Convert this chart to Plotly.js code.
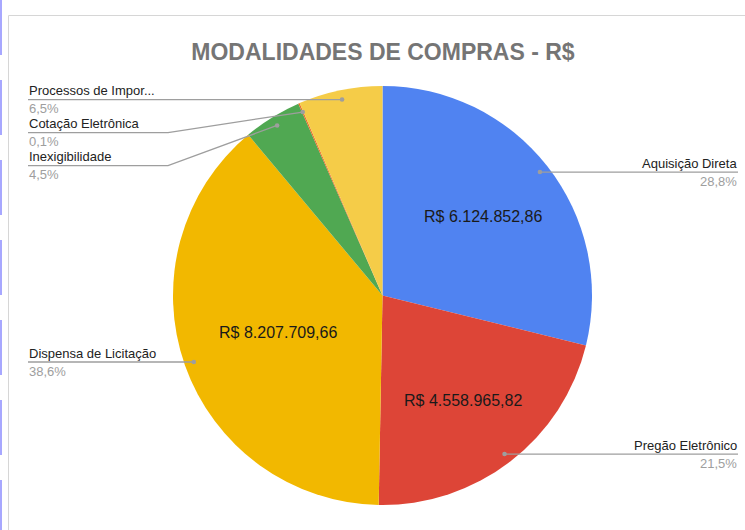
<!DOCTYPE html>
<html>
<head>
<meta charset="utf-8">
<script src="https://cdn.plot.ly/plotly-3.0.1.min.js"></script>
<style>html,body{margin:0;padding:0;background:#fff;}#chart{width:745px;height:530px;}</style>
</head>
<body>
<div id="chart"></div>
<script>
// ---- data ----
const categories = ["Aquisição Direta", "Pregão Eletrônico", "Dispensa de Licitação", "Inexigibilidade", "Cotação Eletrônica", "Processos de Impor..."];
const values = [6124852.86, 4558965.82, 8207709.66, 955800.00, 21400.00, 1376271.66];
const showValue = [true, true, true, false, false, false];
const colors = ["#5083F1", "#DD4537", "#F2B800", "#50A852", "#E8702A", "#F5CC48"];
const titleText = "MODALIDADES DE COMPRAS - R$";

// ---- layout constants ----
const W = 745, H = 530;
const cx = 382.5, cy = 295.5, R = 209.5;
const FONT = "Arial, 'Liberation Sans', sans-serif";

const total = values.reduce((a, b) => a + b, 0);
function pct(v) { return (v / total * 100).toFixed(1).replace('.', ',') + '%'; }
function brl(v) {
  const parts = v.toFixed(2).split('.');
  parts[0] = parts[0].replace(/\B(?=(\d{3})+(?!\d))/g, '.');
  return 'R$ ' + parts[0] + ',' + parts[1];
}
const px = x => x / W;
const py = y => 1 - y / H;

// mid angles (clockwise from 12 o'clock)
let cum = 0;
const mids = values.map(v => { const m = (cum + v / 2) / total * 2 * Math.PI; cum += v; return m; });

const annotations = [];
const shapes = [];

// frame
shapes.push({type: 'rect', xref: 'paper', yref: 'paper', x0: px(8.5), y0: py(15.5), x1: 1.2, y1: -0.2,
  line: {color: '#d6d6d6', width: 1}, fillcolor: 'rgba(0,0,0,0)', layer: 'below'});
shapes.push({type: 'line', xref: 'paper', yref: 'paper', x0: px(1), y0: 1, x1: px(1), y1: 0,
  line: {color: '#a8a8ff', width: 2, dash: '55px,25px'}});

// inside value labels
const insideR = [0.61, 0.63, 0.53, 0.6, 0.6, 0.6];
values.forEach((v, i) => {
  if (!showValue[i]) return;
  const x = cx + Math.sin(mids[i]) * R * insideR[i];
  const y = cy - Math.cos(mids[i]) * R * insideR[i];
  annotations.push({xref: 'paper', yref: 'paper', x: px(x), y: py(y), xanchor: 'center', yanchor: 'middle',
    text: brl(v), showarrow: false, font: {family: FONT, size: 16, color: '#1a1a1a'}});
});

// outside labels with leader lines
const dotR = R * 0.955;
const items = values.map((v, i) => ({
  i, dx: cx + Math.sin(mids[i]) * dotR, dy: cy - Math.cos(mids[i]) * dotR,
  side: Math.sin(mids[i]) >= 0 ? 'right' : 'left'
}));
const spacing = 33;
['left', 'right'].forEach(side => {
  const grp = items.filter(it => it.side === side).sort((a, b) => a.dy - b.dy);
  let prev = -1e9;
  grp.forEach(it => {
    it.ly = Math.max(it.dy, prev + spacing);
    prev = it.ly;
  });
});
const leftX = 28, rightX = 738, bendLeft = 168, bendRight = 600;
items.forEach(it => {
  const endX = it.side === 'left' ? leftX : rightX;
  const bendX = it.side === 'left' ? bendLeft : bendRight;
  let path;
  if (Math.abs(it.ly - it.dy) < 0.5) {
    path = `M ${px(it.dx)} ${py(it.dy)} L ${px(endX)} ${py(it.ly)}`;
  } else {
    path = `M ${px(it.dx)} ${py(it.dy)} L ${px(bendX)} ${py(it.ly)} L ${px(endX)} ${py(it.ly)}`;
  }
  shapes.push({type: 'path', xref: 'paper', yref: 'paper', path, line: {color: '#9e9e9e', width: 1.3}});
  const r = 2.3;
  shapes.push({type: 'circle', xref: 'paper', yref: 'paper', x0: px(it.dx - r), x1: px(it.dx + r),
    y0: py(it.dy + r), y1: py(it.dy - r), fillcolor: '#9e9e9e', line: {width: 0}});
  const xa = it.side === 'left' ? 'left' : 'right';
  annotations.push({xref: 'paper', yref: 'paper', x: px(endX), y: py(it.ly - 0.5), xanchor: xa, yanchor: 'bottom',
    text: categories[it.i], showarrow: false, borderpad: 0, font: {family: FONT, size: 13, color: '#222222'}});
  annotations.push({xref: 'paper', yref: 'paper', x: px(endX), y: py(it.ly + 0.5), xanchor: xa, yanchor: 'top',
    text: pct(values[it.i]), showarrow: false, borderpad: 0, font: {family: FONT, size: 13, color: '#9e9e9e'}});
});

const trace = {
  type: 'pie', labels: categories, values: values, sort: false, direction: 'clockwise', rotation: 0,
  marker: {colors: colors, line: {width: 0}}, textinfo: 'none', hoverinfo: 'label+percent',
  domain: {x: [(cx - R) / W, (cx + R) / W], y: [1 - (cy + R) / H, 1 - (cy - R) / H]},
  showlegend: false
};

const layout = {
  width: W, height: H, margin: {l: 0, r: 0, t: 0, b: 0},
  paper_bgcolor: '#ffffff',
  title: {text: '<b>' + titleText + '</b>', x: px(383), xanchor: 'center', y: py(52), yanchor: 'middle', yref: 'container',
    font: {family: FONT, size: 23, color: '#757575'}},
  annotations, shapes, showlegend: false
};

Plotly.newPlot('chart', [trace], layout, {displayModeBar: false, staticPlot: true});
</script>
</body>
</html>
